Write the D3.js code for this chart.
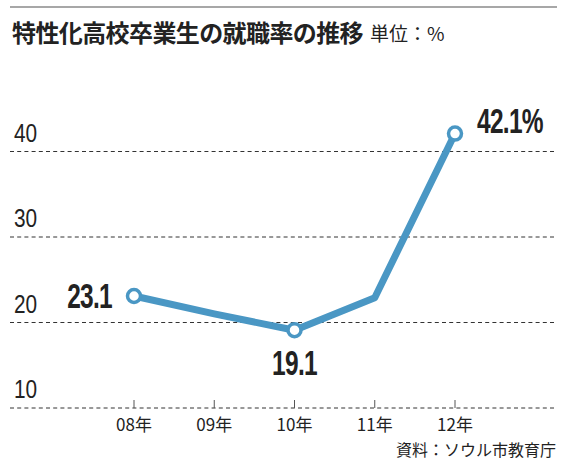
<!DOCTYPE html>
<html>
<head>
<meta charset="utf-8">
<script src="https://cdn.jsdelivr.net/npm/d3@7"></script>
<style>
  body { margin: 0; background: #fff; }
  svg { display: block; }
</style>
</head>
<body>
<div id="chart"></div>
<script>
// chart data
const years = ["08年", "09年", "10年", "11年", "12年"];
const rates = [23.1, 21.0, 19.1, 22.9, 42.1];
const yTicks = [10, 20, 30, 40];
// which points get a marker + label
const labels = [
  {i: 0, text: "23.1"},
  {i: 2, text: "19.1"},
  {i: 4, text: "42.1%"}
];

const width = 570;
const height = 475;
const blue = "#4a97c4";
// no narrow font installed, so squeeze Liberation Sans horizontally
const numFont = "'Liberation Sans', Arial, sans-serif";
const jpFont = "'Noto Sans CJK JP', sans-serif";

const svg = d3.select("#chart")
  .append("svg")
  .attr("width", width)
  .attr("height", height);

// top rule
svg.append("line")
  .attr("x1", 10).attr("x2", 557)
  .attr("y1", 7).attr("y2", 7)
  .attr("stroke", "#8a8a8a")
  .attr("stroke-width", 1.5);

// title
svg.append("text")
  .attr("x", 12).attr("y", 42)
  .attr("font-family", jpFont)
  .attr("font-weight", 700)
  .attr("font-size", 24)
  .attr("letter-spacing", -0.6)
  .attr("fill", "#222")
  .text("特性化高校卒業生の就職率の推移");

svg.append("text")
  .attr("x", 370).attr("y", 41)
  .attr("font-family", jpFont)
  .attr("font-size", 19)
  .attr("fill", "#222")
  .text("単位：%");

// scales
let xScale = d3.scalePoint()
  .domain(years)
  .range([134, 455]);

let yScale = d3.scaleLinear()
  .domain([10, 40])
  .range([408, 151.5]);

// dashed gridlines
svg.selectAll(".grid")
  .data(yTicks)
  .enter()
  .append("line")
    .attr("class", "grid")
    .attr("x1", 10).attr("x2", 557)
    .attr("y1", d => yScale(d)).attr("y2", d => yScale(d))
    .attr("stroke", "#333")
    .attr("stroke-width", 1)
    .attr("stroke-dasharray", "4,3.2");

// y tick labels
svg.selectAll(".ylab")
  .data(yTicks)
  .enter()
  .append("text")
    .attr("class", "ylab")
    .attr("transform", d => `translate(14,${yScale(d) - 10}) scale(0.8,1)`)
    .attr("font-family", numFont)
    .attr("font-size", 26)
    .attr("fill", "#222")
    .text(d => d);

// x ticks (small marks standing on the bottom gridline)
svg.selectAll(".xtick")
  .data(years)
  .enter()
  .append("line")
    .attr("class", "xtick")
    .attr("x1", d => xScale(d)).attr("x2", d => xScale(d))
    .attr("y1", yScale(10) - 8).attr("y2", yScale(10))
    .attr("stroke", "#555")
    .attr("stroke-width", 1);

svg.selectAll(".xlab")
  .data(years)
  .enter()
  .append("text")
    .attr("class", "xlab")
    .attr("x", d => xScale(d))
    .attr("y", 431)
    .attr("text-anchor", "middle")
    .attr("font-family", jpFont)
    .attr("font-size", 17)
    .attr("fill", "#222")
    .text(d => d);

// source
svg.append("text")
  .attr("x", 556).attr("y", 456)
  .attr("text-anchor", "end")
  .attr("font-family", jpFont)
  .attr("font-size", 16)
  .attr("fill", "#222")
  .text("資料：ソウル市教育庁");

// the line
const line = d3.line()
  .x((d, i) => xScale(years[i]))
  .y(d => yScale(d));

svg.append("path")
  .datum(rates)
  .attr("d", line)
  .attr("fill", "none")
  .attr("stroke", blue)
  .attr("stroke-width", 7)
  .attr("stroke-linejoin", "round");

// markers
svg.selectAll(".dot")
  .data(labels)
  .enter()
  .append("circle")
    .attr("class", "dot")
    .attr("cx", d => xScale(years[d.i]))
    .attr("cy", d => yScale(rates[d.i]))
    .attr("r", 6.5)
    .attr("fill", "#fff")
    .attr("stroke", blue)
    .attr("stroke-width", 3.5);

// value labels
const labelPos = [
  {dx: -22, dy: 12, anchor: "end"},
  {dx: 0, dy: 45, anchor: "middle"},
  {dx: 22, dy: -1, anchor: "start"}
];

svg.selectAll(".vlab")
  .data(labels)
  .enter()
  .append("text")
    .attr("class", "vlab")
    .attr("transform", (d, k) => `translate(${xScale(years[d.i]) + labelPos[k].dx},${yScale(rates[d.i]) + labelPos[k].dy}) scale(0.7,1)`)
    .attr("text-anchor", (d, k) => labelPos[k].anchor)
    .attr("font-family", numFont)
    .attr("font-weight", 700)
    .attr("font-size", 35)
    .attr("letter-spacing", -1)
    .attr("fill", "#222")
    .text(d => d.text);
</script>
</body>
</html>
